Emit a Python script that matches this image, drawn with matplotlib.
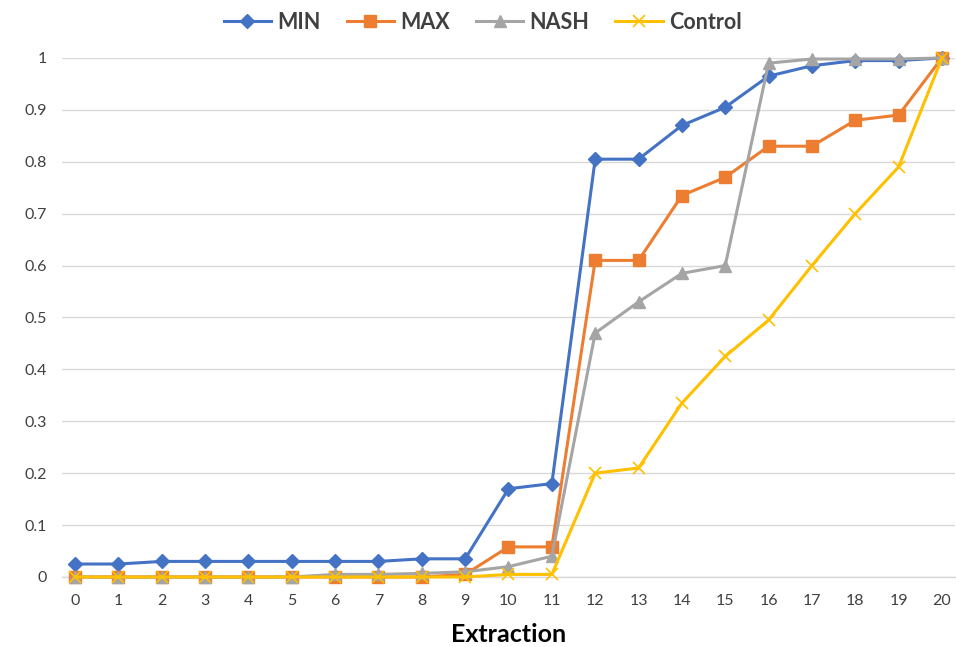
import matplotlib
matplotlib.use("Agg")
import matplotlib.pyplot as plt

extraction = list(range(21))
min_vals = [0.025, 0.025, 0.03, 0.03, 0.03, 0.03, 0.03, 0.03, 0.035, 0.035, 0.17,
            0.18, 0.805, 0.805, 0.87, 0.905, 0.965, 0.985, 0.995, 0.995, 1.0]
max_vals = [0, 0, 0, 0, 0, 0, 0, 0, 0, 0.005, 0.058,
            0.058, 0.61, 0.61, 0.735, 0.77, 0.83, 0.83, 0.88, 0.89, 1.0]
nash_vals = [0, 0, 0, 0, 0, 0, 0.005, 0.005, 0.007, 0.01, 0.02,
             0.04, 0.47, 0.53, 0.585, 0.6, 0.99, 0.998, 0.998, 0.998, 1.0]
control_vals = [0, 0, 0, 0, 0, 0, 0, 0, 0, 0, 0.005,
                0.005, 0.2, 0.21, 0.335, 0.425, 0.495, 0.6, 0.7, 0.79, 1.0]
y_ticks = [0, 0.1, 0.2, 0.3, 0.4, 0.5, 0.6, 0.7, 0.8, 0.9, 1]
y_tick_labels = ["0", "0.1", "0.2", "0.3", "0.4", "0.5", "0.6", "0.7", "0.8", "0.9", "1"]

plt.rcParams['font.family'] = ['Lato', 'DejaVu Sans']

fig = plt.figure(figsize=(9.56, 6.47), dpi=100)
ax = fig.add_axes([0.0649, 0.1082, 0.934, 0.8022])

ax.plot(extraction, min_vals, color='#4472C4', lw=2.2, marker='D', ms=7,
        label='MIN', clip_on=False, zorder=3)
ax.plot(extraction, max_vals, color='#ED7D31', lw=2.2, marker='s', ms=9,
        label='MAX', clip_on=False, zorder=4)
ax.plot(extraction, nash_vals, color='#A5A5A5', lw=2.2, marker='^', ms=9,
        label='NASH', clip_on=False, zorder=5)
ax.plot(extraction, control_vals, color='#FFC000', lw=2.2, marker='x', ms=9,
        mew=1.2, label='Control', clip_on=False, zorder=6)

ax.set_xlim(-0.3, 20.3)
ax.set_ylim(0, 1)
ax.set_xticks(extraction)
ax.set_xticklabels([str(v) for v in extraction])
ax.set_yticks(y_ticks)
ax.set_yticklabels(y_tick_labels)
ax.grid(axis='y', color='#D9D9D9', lw=1)
ax.set_axisbelow(True)
for s in ['left', 'right', 'top']:
    ax.spines[s].set_visible(False)
ax.spines['bottom'].set_color('#D9D9D9')
ax.spines['bottom'].set_linewidth(1)
ax.tick_params(axis='both', length=0, labelsize=11.5, labelcolor='#404040')
ax.tick_params(axis='y', pad=11)
ax.tick_params(axis='x', pad=12)
ax.set_xlabel('Extraction', fontsize=18, fontweight='bold', color='#000000', labelpad=11)

leg = fig.legend(loc='upper center', bbox_to_anchor=(0.505, 1.012), ncol=4, frameon=False,
                 prop={'size': 15.5, 'weight': 'bold'}, handlelength=2.2, columnspacing=1.2,
                 handletextpad=0.3)
for t in leg.get_texts():
    t.set_color('#404040')

fig.savefig('out.png', dpi=100)
